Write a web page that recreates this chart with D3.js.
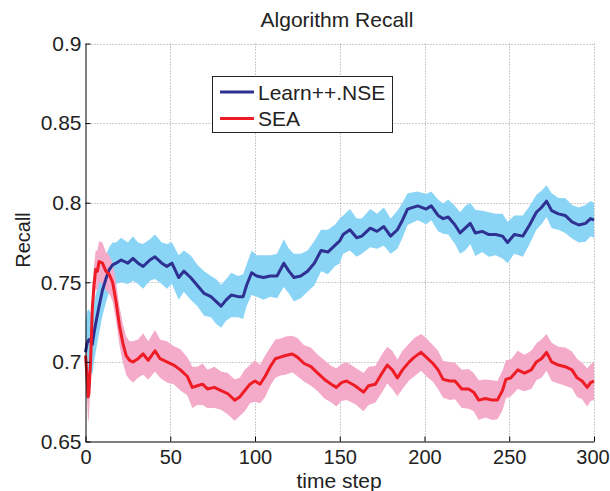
<!DOCTYPE html>
<html>
<head>
<meta charset="utf-8">
<script src="https://cdn.jsdelivr.net/npm/d3@7"></script>
<style>
  body { margin: 0; background: #fff; }
  svg text { font-family: "Liberation Sans", Arial, Helvetica, sans-serif; fill: #222; }
</style>
</head>
<body>
<div id="chart-area"></div>
<script>
// [time step, mean recall, band half-width]
const nseData = [
  [0, 0.706, 0.019], [1, 0.712, 0.020], [2, 0.714, 0.019], [3, 0.713, 0.018], [4, 0.711, 0.019],
  [5, 0.718, 0.018], [6, 0.724, 0.018], [8, 0.735, 0.017], [10, 0.745, 0.016], [12, 0.752, 0.015],
  [14, 0.758, 0.014], [16, 0.761, 0.014], [18, 0.762, 0.013], [21, 0.764, 0.014], [25, 0.762, 0.013],
  [28, 0.765, 0.014], [31, 0.762, 0.013], [34, 0.760, 0.014], [38, 0.764, 0.013], [41, 0.766, 0.014],
  [45, 0.762, 0.013], [48, 0.760, 0.014], [51, 0.762, 0.013], [55, 0.753, 0.014], [58, 0.757, 0.013],
  [62, 0.753, 0.014], [66, 0.748, 0.013], [70, 0.743, 0.014], [74, 0.741, 0.013], [77, 0.738, 0.014],
  [80, 0.735, 0.0135], [83, 0.739, 0.013], [86, 0.742, 0.014], [90, 0.741, 0.013], [93, 0.741, 0.014],
  [95, 0.748, 0.013], [98, 0.756, 0.014], [101, 0.754, 0.013], [105, 0.753, 0.014], [109, 0.754, 0.013],
  [113, 0.754, 0.014], [117, 0.762, 0.015], [120, 0.757, 0.014], [123, 0.753, 0.015], [127, 0.754, 0.014],
  [131, 0.757, 0.013], [135, 0.762, 0.014], [139, 0.770, 0.013], [143, 0.769, 0.014], [147, 0.773, 0.013],
  [150, 0.776, 0.014], [152, 0.780, 0.012], [156, 0.783, 0.013], [160, 0.778, 0.012], [163, 0.779, 0.011],
  [168, 0.784, 0.012], [172, 0.782, 0.011], [176, 0.785, 0.012], [180, 0.779, 0.011], [184, 0.783, 0.012],
  [187, 0.789, 0.011], [190, 0.796, 0.010], [196, 0.798, 0.009], [201, 0.796, 0.0095], [204, 0.798, 0.009],
  [208, 0.792, 0.010], [211, 0.790, 0.0095], [214, 0.791, 0.011], [218, 0.786, 0.012], [221, 0.781, 0.013],
  [224, 0.784, 0.014], [227, 0.787, 0.013], [230, 0.781, 0.0145], [234, 0.782, 0.013], [238, 0.780, 0.014],
  [242, 0.780, 0.013], [246, 0.779, 0.014], [249, 0.775, 0.013], [253, 0.780, 0.012], [258, 0.779, 0.013],
  [262, 0.786, 0.012], [266, 0.794, 0.011], [269, 0.797, 0.0105], [272, 0.801, 0.010], [275, 0.795, 0.011],
  [279, 0.793, 0.010], [283, 0.792, 0.011], [287, 0.788, 0.0105], [291, 0.786, 0.011], [295, 0.787, 0.0115],
  [298, 0.790, 0.011], [300, 0.789, 0.011]
];

const seaData = [
  [0, 0.704, 0.014], [1, 0.690, 0.015], [1.5, 0.678, 0.016], [2, 0.680, 0.015], [3, 0.700, 0.014],
  [4, 0.733, 0.013], [5, 0.748, 0.012], [6, 0.758, 0.012], [7, 0.757, 0.013], [8, 0.763, 0.013],
  [10, 0.762, 0.013], [12, 0.757, 0.012], [14, 0.755, 0.012], [16, 0.750, 0.012], [18, 0.738, 0.012],
  [20, 0.723, 0.012], [22, 0.712, 0.012], [24, 0.704, 0.012], [26, 0.701, 0.012], [28, 0.700, 0.013],
  [31, 0.702, 0.012], [34, 0.705, 0.013], [37, 0.701, 0.012], [41, 0.707, 0.013], [44, 0.702, 0.012],
  [48, 0.700, 0.013], [52, 0.698, 0.012], [56, 0.695, 0.013], [60, 0.691, 0.012], [63, 0.684, 0.013],
  [66, 0.685, 0.012], [69, 0.686, 0.013], [72, 0.683, 0.012], [76, 0.684, 0.013], [80, 0.682, 0.012],
  [84, 0.680, 0.013], [88, 0.676, 0.013], [91, 0.678, 0.012], [94, 0.682, 0.013], [97, 0.686, 0.012],
  [100, 0.688, 0.013], [103, 0.686, 0.012], [106, 0.691, 0.013], [109, 0.697, 0.012], [112, 0.702, 0.012],
  [115, 0.703, 0.0115], [118, 0.704, 0.012], [122, 0.705, 0.0115], [125, 0.703, 0.012], [129, 0.699, 0.0115],
  [133, 0.697, 0.012], [137, 0.693, 0.0115], [141, 0.689, 0.012], [145, 0.686, 0.0115], [148, 0.684, 0.012],
  [151, 0.687, 0.0115], [154, 0.688, 0.012], [159, 0.685, 0.0115], [164, 0.681, 0.012], [167, 0.685, 0.012],
  [171, 0.686, 0.0115], [175, 0.693, 0.012], [178, 0.698, 0.0115], [181, 0.695, 0.012], [184, 0.690, 0.0115],
  [187, 0.695, 0.012], [191, 0.700, 0.0115], [194, 0.703, 0.012], [198, 0.706, 0.0115], [201, 0.703, 0.012],
  [205, 0.699, 0.0115], [208, 0.695, 0.012], [211, 0.689, 0.0115], [215, 0.688, 0.012], [218, 0.688, 0.0115],
  [222, 0.683, 0.012], [226, 0.683, 0.0125], [229, 0.681, 0.012], [232, 0.676, 0.0125], [236, 0.677, 0.012],
  [240, 0.676, 0.0125], [243, 0.676, 0.012], [246, 0.682, 0.0125], [248, 0.689, 0.012], [251, 0.690, 0.0115],
  [255, 0.695, 0.012], [259, 0.693, 0.0115], [263, 0.695, 0.012], [266, 0.700, 0.0115], [269, 0.702, 0.012],
  [272, 0.706, 0.0115], [275, 0.700, 0.012], [279, 0.698, 0.0115], [283, 0.697, 0.012], [287, 0.695, 0.0115],
  [290, 0.690, 0.012], [293, 0.688, 0.0115], [296, 0.684, 0.012], [298, 0.687, 0.0115], [300, 0.688, 0.012]
];

const seriesNames = ['Learn++.NSE', 'SEA'];
const xTicks = [0, 50, 100, 150, 200, 250, 300];
const yTicks = [0.65, 0.7, 0.75, 0.8, 0.85, 0.9];

// Layout
const W = 610, H = 491;
const plot = { left: 85.5, right: 594, top: 43.5, bottom: 441.5 };

const svg = d3.select('#chart-area')
  .append('svg')
  .attr('width', W)
  .attr('height', H);

const x = d3.scaleLinear().domain([0, 300]).range([plot.left, plot.right]);
const y = d3.scaleLinear().domain([0.65, 0.9]).range([plot.bottom, plot.top]);

// Dotted grid
const grid = svg.append('g')
  .attr('stroke', '#9a9a9a')
  .attr('stroke-width', 1)
  .attr('stroke-dasharray', '1,2');
grid.selectAll('.gx').data(xTicks.slice(1)).enter()
  .append('line')
  .attr('x1', d => Math.round(x(d)) + 0.5).attr('x2', d => Math.round(x(d)) + 0.5)
  .attr('y1', plot.top).attr('y2', plot.bottom);
grid.selectAll('.gy').data(yTicks.slice(1)).enter()
  .append('line')
  .attr('y1', d => Math.round(y(d)) + 0.5).attr('y2', d => Math.round(y(d)) + 0.5)
  .attr('x1', plot.left).attr('x2', plot.right);

// Bands and lines
const band = d3.area()
  .x(d => x(d[0]))
  .y0(d => y(d[1] - d[2]))
  .y1(d => y(d[1] + d[2]));
const line = d3.line()
  .x(d => x(d[0]))
  .y(d => y(d[1]));

svg.append('path').datum(nseData).attr('d', band).attr('fill', '#8ad5f6');
svg.append('path').datum(seaData).attr('d', band).attr('fill', '#f4aac9');
svg.append('path').datum(nseData).attr('d', line)
  .attr('fill', 'none').attr('stroke', '#2e3092').attr('stroke-width', 3).attr('stroke-linejoin', 'round');
svg.append('path').datum(seaData).attr('d', line)
  .attr('fill', 'none').attr('stroke', '#ee1c25').attr('stroke-width', 3).attr('stroke-linejoin', 'round');

// Axes
const xAxis = d3.axisBottom(x).tickValues(xTicks).tickSizeInner(-5).tickSizeOuter(0).tickPadding(8);
const yAxis = d3.axisLeft(y).tickValues(yTicks).tickSizeInner(-5).tickSizeOuter(0).tickPadding(4)
  .tickFormat(d => d3.format('')(+d.toFixed(2)));

const gx = svg.append('g')
  .attr('transform', 'translate(0,' + plot.bottom + ')')
  .call(xAxis);
const gy = svg.append('g')
  .attr('transform', 'translate(' + plot.left + ',0)')
  .call(yAxis);

[gx, gy].forEach(g => {
  g.select('.domain').attr('stroke', '#000');
  g.selectAll('.tick line').attr('stroke', '#000');
  g.selectAll('.tick text')
    .attr('font-size', '21px')
    .attr('font-family', '"Liberation Sans", Arial, sans-serif')
    .attr('fill', '#222');
});
// keep the last x label inside the window
gx.selectAll('.tick text')
  .attr('font-size', '20px')
  .attr('dx', d => d === 300 ? -1.5 : 0);

// Titles
svg.append('text')
  .attr('x', 337).attr('y', 26.5)
  .attr('text-anchor', 'middle')
  .attr('font-size', '21px')
  .text('Algorithm Recall');

svg.append('text')
  .attr('x', 339).attr('y', 488)
  .attr('text-anchor', 'middle')
  .attr('font-size', '21px')
  .text('time step');

svg.append('text')
  .attr('transform', 'translate(30,240) rotate(-90)')
  .attr('text-anchor', 'middle')
  .attr('font-size', '20px')
  .text('Recall');

// Legend
const legend = svg.append('g');
legend.append('rect')
  .attr('x', 212.5).attr('y', 76.5)
  .attr('width', 180).attr('height', 56)
  .attr('fill', '#fff').attr('stroke', '#222').attr('stroke-width', 1);

const legendColors = ['#2e3092', '#ee1c25'];
const rows = legend.selectAll('.row').data(seriesNames).enter()
  .append('g')
  .attr('transform', (d, i) => 'translate(0,' + (92 + i * 26.5) + ')');
rows.append('line')
  .attr('x1', 220).attr('x2', 254)
  .attr('stroke', (d, i) => legendColors[i])
  .attr('stroke-width', 3);
rows.append('text')
  .attr('x', 258).attr('y', 7.5)
  .attr('font-size', '21px')
  .text(d => d);
</script>
</body>
</html>
